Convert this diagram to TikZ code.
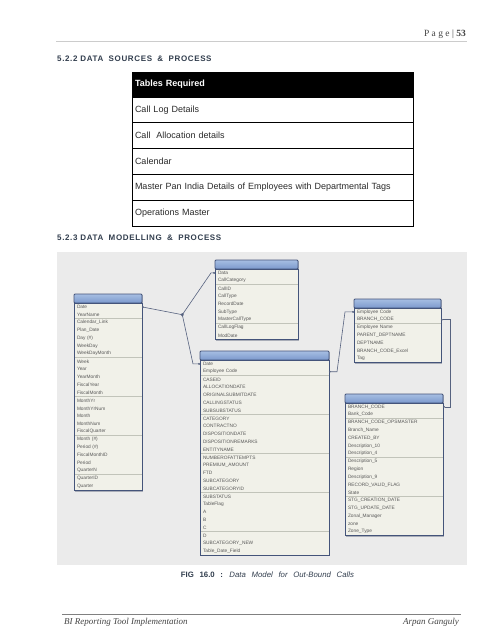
\documentclass[tikz,border=0pt]{standalone}
\usepackage{fontspec}
\setmainfont{Liberation Sans}
\newfontfamily\serifft{Liberation Serif}
\usetikzlibrary{calc,arrows.meta}
\definecolor{bgpanel}{HTML}{EBEBEB}
\definecolor{rowfill}{HTML}{F1F1E9}
\definecolor{rowline}{HTML}{C2C4BA}
\definecolor{tblborder}{HTML}{44547A}
\definecolor{tblshadow}{HTML}{A9ADB8}
\definecolor{headtop}{HTML}{A7BEE3}
\definecolor{headbot}{HTML}{7B99CC}
\definecolor{rowtext}{HTML}{585858}
\definecolor{conn}{HTML}{56627F}
\definecolor{headingc}{HTML}{323E4E}
\definecolor{pagetext}{HTML}{444444}
\definecolor{srctext}{HTML}{2A2A2A}
\tikzset{
  tblhead/.style={draw=tblborder, line width=0.8pt, top color=headtop, bottom color=headbot,
    minimum height=9pt, inner sep=0pt, outer sep=0pt, anchor=north west, rounded corners=1pt},
  tblrow/.style={fill=rowfill, minimum height=7.8pt, inner xsep=3pt, inner ysep=0pt, outer sep=0pt,
    anchor=north west, font=\fontsize{4.8}{5}\selectfont, text=rowtext, align=left},
  rowsep/.style={draw=rowline, line width=0.5pt},
  tblframe/.style={draw=tblborder, line width=0.9pt},
  connline/.style={draw=conn, line width=0.6pt, {Circle[length=1.8pt]}-{Circle[length=1.8pt]}},
  junction/.style={circle, fill=conn, inner sep=0pt, minimum size=2.4pt},
  srchead/.style={draw=black, fill=black, line width=0.8pt, anchor=north west, minimum height=25pt,
    text width=275pt, inner xsep=3pt, inner ysep=0pt, outer sep=0pt, align=left, text=white,
    font=\fontsize{9}{11}\selectfont\bfseries},
  srcrow/.style={draw=black, line width=0.8pt, anchor=north west, minimum height=25.8pt,
    text width=275pt, inner xsep=3pt, inner ysep=0pt, outer sep=0pt, align=left, text=srctext,
    font=\fontsize{9}{11}\selectfont},
  heading/.style={anchor=west, inner sep=0pt, text=headingc,
    font=\fontsize{8}{10}\selectfont\bfseries\addfontfeature{LetterSpace=8}},
  pageinfo/.style={inner sep=0pt, text=pagetext},
}
\newcommand\dmtable[6]{%
  \fill[tblshadow] ({#2+1.3},{#3+1.3}) rectangle ({#2+#4+1.3},{#3+9+#5*7.8+1.3});
  \node[tblhead, minimum width=#4pt] (#1-h) at (#2,#3) {};
  \pgfmathsetmacro\dmtw{#4-6}
  \foreach \rowtxt [count=\ri] in {#6} {
    \node[tblrow, text width=\dmtw pt] (#1-\ri) at ($(#2,#3)+(0,{9+(\ri-1)*7.8})$) {\rowtxt};
    \draw[rowsep] (#1-\ri.south west) -- (#1-\ri.south east);
  }
  \draw[tblframe] (#1-h.south west) rectangle (#1-#5.south east);
}
\begin{document}
\begin{tikzpicture}[x=1pt,y=-1pt]
\useasboundingbox (0,0) rectangle (495,640);
\fill[white] (0,0) rectangle (495,640);

% page header
\node[pageinfo, anchor=east, font=\serifft\fontsize{9.5}{11}\selectfont] (pg) at (466,34) {P a g e | \textbf{53}};
\draw[draw=black!20, line width=0.8pt] (56,41) -- (467,41);

% section 5.2.2
\node[heading] (h1) at (57,59) {5.2.2 DATA\hspace{2.5pt} SOURCES\hspace{2.5pt} \&\hspace{2.5pt} PROCESS};
\node[srchead] (src-h) at (132,72) {Tables Required};
\foreach \t [count=\i] in {Call Log Details, Call\ \ Allocation details, Calendar,
    Master Pan India Details of Employees with Departmental Tags, Operations Master} {
  \node[srcrow] (src-\i) at (132,{97+(\i-1)*25.8}) {\t};
}

% section 5.2.3
\node[heading] (h2) at (57,238) {5.2.3 DATA\hspace{2.5pt} MODELLING\hspace{2.5pt} \&\hspace{2.5pt} PROCESS};
\fill[bgpanel] (57,252) rectangle (467,565);

\dmtable{cal}{74}{294}{68}{24}{Date, YearName, Calendar\_Link, Plan\_Date, Day (\#), WeekDay, WeekDayMonth,
  Week, Year, YearMonth, FiscalYear, FiscalMonth, MonthYr, MonthYrNum, Month, MonthNum, FiscalQuarter,
  Month (\#), Period (\#), FiscalMonthID, Period, QuarterN, QuarterID, Quarter}
\dmtable{cl}{215}{260}{83}{9}{Data, CallCategory, CallID, CallType, RecordDate, SubType, MasterCallType,
  CallLogFlag, ModDate}
\dmtable{ctr}{200}{351}{129}{25}{Date, Employee Code, CASEID, ALLOCATIONDATE, ORIGINALSUBMITDATE,
  CALLINGSTATUS, SUBSUBSTATUS, CATEGORY, CONTRACTNO, DISPOSITIONDATE, DISPOSITIONREMARKS, ENTITYNAME,
  NUMBEROFATTEMPTS, PREMIUM\_AMOUNT, FTD, SUBCATEGORY, SUBCATEGORYID, SUBSTATUS, TableFlag, A, B, C, D,
  SUBCATEGORY\_NEW, Table\_Date\_Field}
\dmtable{emp}{354}{299}{87}{7}{Employee Code, BRANCH\_CODE, Employee Name, PARENT\_DEPTNAME, DEPTNAME,
  BRANCH\_CODE\_Excel, Tag}
\dmtable{br}{345}{394}{98}{17}{BRANCH\_CODE, Bank\_Code, BRANCH\_CODE\_OPSMASTER, Branch\_Name, CREATED\_BY,
  Description\_10, Description\_4, Description\_5, Region, Description\_9, RECORD\_VALID\_FLAG, State,
  STG\_CREATION\_DATE, STG\_UPDATE\_DATE, Zonal\_Manager, zone, Zone\_Type}

% connectors
\node[junction] (jn) at (182.3,314.7) {};
\draw[connline] (cal-1.east) -- (jn.center);
\draw[connline] (jn.center) -- ($(cl-1.west)+(-4,0)$) -- (cl-1.west);
\draw[connline] (jn.center) -- ($(ctr-1.west)+(-7,0)$) -- (ctr-1.west);
\draw[connline] (ctr-2.east) -- ++(8,0) -- ($(emp-1.west)+(-9,0)$) -- (emp-1.west);
\draw[connline] (emp-2.east) -- ++(9,0) |- (br-1.east);

% caption
\node[inner sep=0pt, text=headingc, font=\fontsize{7.8}{9}\selectfont] (cap) at (267.5,575)
  {\textbf{FIG\hspace{3.5pt} 16.0\hspace{3.5pt} :}\hspace{3.5pt} \textit{Data\hspace{3.5pt} Model\hspace{3.5pt} for\hspace{3.5pt} Out-Bound\hspace{3.5pt} Calls}};

% footer
\draw[draw=black!50, line width=0.6pt] (62,614) -- (461,614);
\node[pageinfo, anchor=west, font=\serifft\itshape\fontsize{9}{11}\selectfont] (ft1) at (64,622) {BI Reporting Tool Implementation};
\node[pageinfo, anchor=east, font=\serifft\itshape\fontsize{9}{11}\selectfont] (ft2) at (459,622) {Arpan Ganguly};
\end{tikzpicture}
\end{document}
